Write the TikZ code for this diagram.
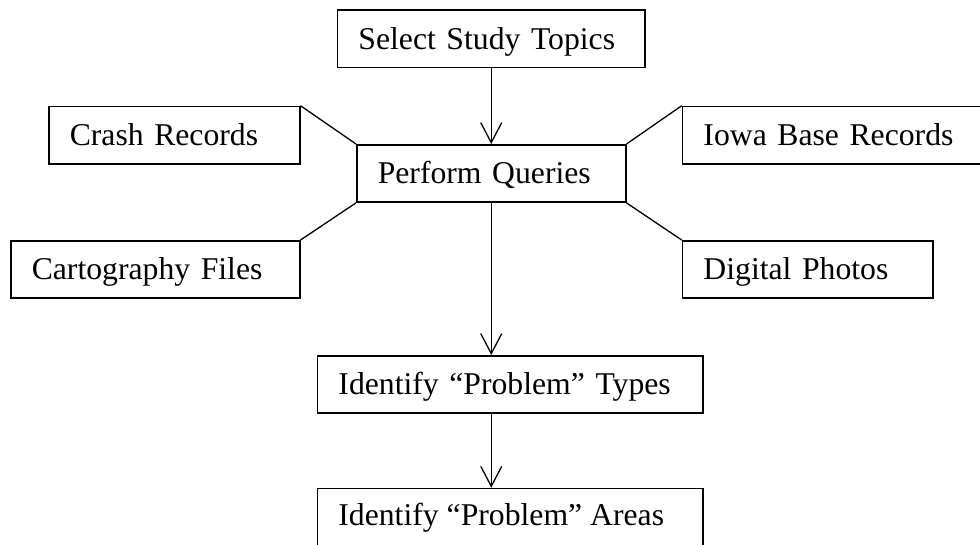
\documentclass[tikz,border=0pt]{standalone}
\usepackage{fontspec}
\setmainfont{Liberation Serif}
\usetikzlibrary{arrows.meta}
\begin{document}
\begin{tikzpicture}[x=1pt,y=-1pt,
  box/.style={draw, line width=1.5pt, anchor=north west, inner xsep=21pt, inner ysep=0pt,
    minimum height=57.4pt, text height=27pt, text depth=6pt, align=left,
    font=\fontsize{31.7}{38}\selectfont},
  link/.style={line width=1.3pt},
  flow/.style={line width=1.3pt, -{Straight Barb[length=20pt,width=21pt,line width=1.3pt]}}]
\useasboundingbox (0,0) rectangle (980,544);
\clip (0,0) rectangle (980,544);
\node[box, text width=265.3pt] (sel) at (336.7,9.3) {Select Study Topics};
\node[box, text width=227pt] (pq) at (356,144) {Perform Queries};
\node[box, text width=209pt] (crash) at (48,105.7) {Crash Records};
\node[box, text width=278pt] (iowa) at (681.7,105.7) {Iowa Base Records};
\node[box, text width=247pt] (carto) at (10,240) {Cartography Files};
\node[box, text width=208.6pt] (digital) at (681.7,240) {Digital Photos};
\node[box, text width=343.3pt] (types) at (316.7,355) {Identify “Problem” Types};
\node[box, text width=343.3pt, minimum height=70pt] (areas) at (316.7,487.7) {};
\node[anchor=base west, inner sep=0pt, font=\fontsize{31.7}{38}\selectfont] (areastext) at (338.2,525.5) {Identify “Problem” Areas};
\draw[flow] (sel.south -| pq.north) -- (pq.north);
\draw[flow] (pq.south) -- (pq.south |- types.north);
\draw[flow] (types.south -| pq.south) -- (areas.north -| pq.south);
\draw[link] (crash.north east) -- (pq.north west);
\draw[link] (carto.north east) -- (pq.south west);
\draw[link] (iowa.north west) -- (pq.north east);
\draw[link] (digital.north west) -- (pq.south east);
\end{tikzpicture}
\end{document}
